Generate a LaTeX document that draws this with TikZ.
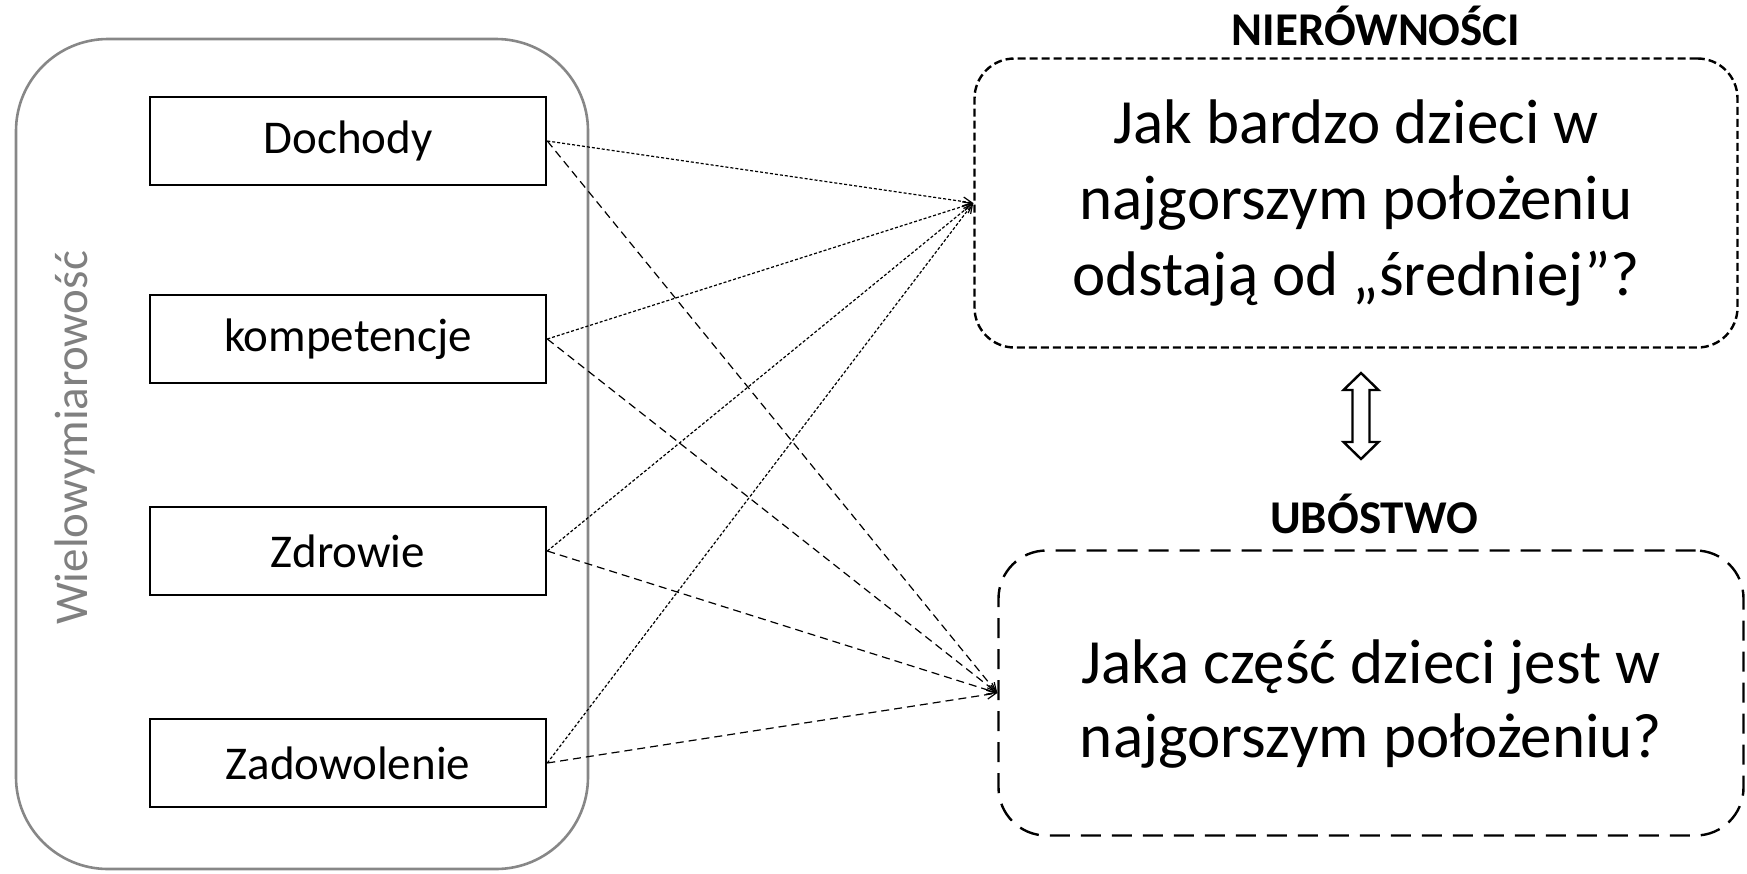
\documentclass[tikz,border=0pt]{standalone}
\usepackage{fontspec}
\setmainfont{Carlito}
\usetikzlibrary{arrows.meta}

\begin{document}
\begin{tikzpicture}[x=1pt,y=-1pt,
  dimbox/.style={draw,line width=2.6pt,minimum width=396pt,minimum height=88pt,inner sep=0pt,font=\fontsize{47}{56}\selectfont},
  qbox/.style={draw,line width=2.4pt,align=center,inner sep=0pt,font=\fontsize{63}{76}\selectfont},
  qtext/.style={align=center,inner sep=0pt,font=\fontsize{63}{74}\selectfont},
  headlbl/.style={font=\fontsize{47}{56}\selectfont\bfseries},
  toineq/.style={line width=1.2pt,dash pattern=on 3pt off 2pt,-{Straight Barb[length=9pt,width=9pt]}},
  topov/.style={line width=1.2pt,dash pattern=on 8pt off 5pt,-{Straight Barb[length=9pt,width=9pt]}}]
\useasboundingbox (0,0) rectangle (1747,873);

% Dimensions
\node[draw=black!47,line width=2.6pt,rounded corners=92pt,minimum width=572pt,minimum height=830pt] (multi) at (302,454) {};
\node[rotate=90,text=black!50,font=\fontsize{47}{56}\selectfont] (multilbl) at (75,438) {Wielowymiarowość};
\node[dimbox] (income) at (348,141) {Dochody};
\node[dimbox] (skills) at (348,339) {kompetencje};
\node[dimbox] (health) at (348,551) {Zdrowie};
\node[dimbox] (satisf) at (348,763) {Zadowolenie};

% Inequality and poverty
\node[headlbl] (ineqlbl) at (1376,26) {NIERÓWNOŚCI};
\node[qbox,dash pattern=on 8pt off 4pt,rounded corners=40pt,minimum width=763pt,minimum height=289pt] (ineq) at (1356,203) {Jak bardzo dzieci w\\najgorszym położeniu\\odstają od „średniej”?};
\node[headlbl] (povlbl) at (1374,514) {UBÓSTWO};
\node[draw,line width=2.4pt,dash pattern=on 20pt off 11pt,rounded corners=48pt,minimum width=745pt,minimum height=285pt] (pov) at (1371,693) {};
\node[qtext] (povtxt) at (1371,704) {Jaka część dzieci jest w\\najgorszym położeniu?};

% Two-way arrow
\draw[line width=2.4pt,line join=miter,shift={(1361,416)}]
  (0,-43) -- (17.5,-26) -- (8.5,-26) -- (8.5,26) -- (17.5,26) -- (0,43)
  -- (-17.5,26) -- (-8.5,26) -- (-8.5,-26) -- (-17.5,-26) -- cycle;

% Connectors
\foreach \d in {income,skills,health,satisf}{
  \draw[toineq] (\d.east) -- (ineq.west);
  \draw[topov] (\d.east) -- (pov.west);
}
\end{tikzpicture}
\end{document}
